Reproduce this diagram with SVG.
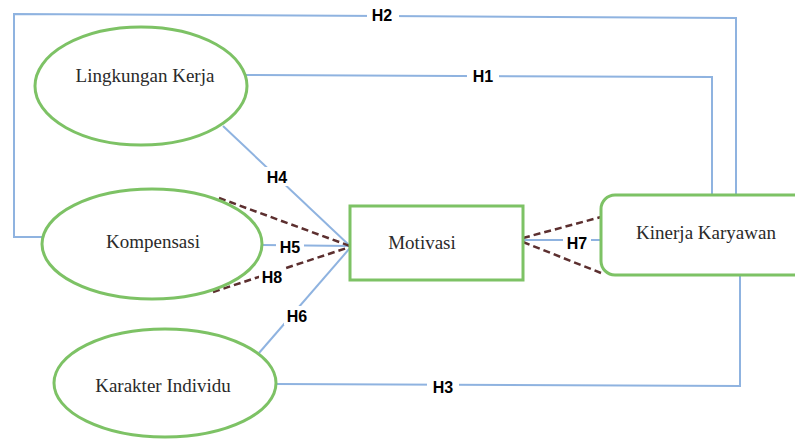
<svg xmlns="http://www.w3.org/2000/svg" width="795" height="439" viewBox="0 0 795 439">
<style>
.node{fill:#fff;stroke:#7DC265;stroke-width:3}
.conn{fill:none;stroke:#8FB3E0;stroke-width:2}
.dash{fill:none;stroke:#5C2F2F;stroke-width:2.5;stroke-dasharray:7,4}
.nt{font-family:"Liberation Serif","Times New Roman",serif;font-size:19px;fill:#2a2a2a;text-anchor:middle}
.lb{font-family:"Liberation Sans",Arial,sans-serif;font-size:16px;font-weight:bold;fill:#000;text-anchor:middle}
.bg{fill:#fff}
</style>
<rect width="795" height="439" fill="#fff"/>
<g id="connectors">
<path class="conn" d="M42,237 L14,237 L14,14 L736,18 L736,195"/>
<path class="conn" d="M245,75 L712,77 L712,195"/>
<path class="conn" d="M276,384 L740,386 L740,275"/>
<path class="conn" d="M223,126 L350,246"/>
<path class="conn" d="M263,245 L350,246"/>
<path class="conn" d="M259,353 L350,248"/>
<path class="conn" d="M523,240 L601,240"/>
<path class="dash" d="M219,198 L350,246"/>
<path class="dash" d="M213,292 L350,247"/>
<path class="dash" d="M523,238 L601,217"/>
<path class="dash" d="M523,242 L601,273"/>
<g id="labels">
<rect class="bg" x="367" y="7" width="32" height="17"/><text class="lb" x="382" y="21">H2</text>
<rect class="bg" x="467" y="68" width="32" height="17"/><text class="lb" x="483" y="82">H1</text>
<rect class="bg" x="265" y="167" width="24" height="19"/><text class="lb" x="277" y="183">H4</text>
<rect class="bg" x="276" y="238" width="28" height="18"/><text class="lb" x="290" y="253">H5</text>
<rect class="bg" x="259" y="267" width="26" height="19"/><text class="lb" x="272" y="283">H8</text>
<rect class="bg" x="284" y="306" width="26" height="19"/><text class="lb" x="297" y="322">H6</text>
<rect class="bg" x="427" y="378" width="32" height="17"/><text class="lb" x="443" y="393">H3</text>
<rect class="bg" x="563" y="233" width="28" height="18"/><text class="lb" x="577" y="249">H7</text>
</g>
</g>
<g id="lingkungan"><ellipse class="node" cx="141" cy="86" rx="106" ry="59"/><text class="nt" x="145" y="82">Lingkungan Kerja</text></g>
<g id="kompensasi"><ellipse class="node" cx="152" cy="244" rx="110" ry="55"/><text class="nt" x="153" y="248">Kompensasi</text></g>
<g id="karakter"><ellipse class="node" cx="165" cy="383" rx="111" ry="54"/><text class="nt" x="163" y="392">Karakter Individu</text></g>
<g id="motivasi"><rect class="node" x="350" y="206" width="173" height="74"/><text class="nt" x="422" y="249">Motivasi</text></g>
<g id="kinerja"><rect class="node" x="601" y="195" width="210" height="80" rx="14"/><text class="nt" x="706" y="239">Kinerja Karyawan</text></g>
</svg>
